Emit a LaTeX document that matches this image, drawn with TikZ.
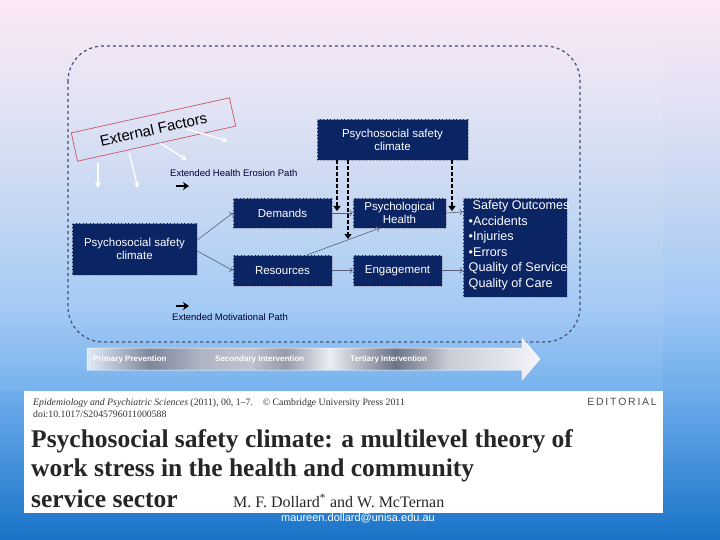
\documentclass[tikz,border=0pt]{standalone}
\usepackage{fontspec}
\setmainfont{Liberation Serif}
\setsansfont{Liberation Sans}
\usetikzlibrary{arrows.meta}

\definecolor{navy}{RGB}{10,36,100}
\definecolor{linegray}{RGB}{85,95,120}
\definecolor{rimblue}{RGB}{65,80,115}
\definecolor{factred}{RGB}{200,85,105}
\definecolor{bgTop}{RGB}{252,232,246}
\definecolor{bgA}{RGB}{226,226,244}
\definecolor{bgB}{RGB}{196,214,242}
\definecolor{bgC}{RGB}{160,200,245}
\definecolor{bgD}{RGB}{105,170,235}
\definecolor{bgE}{RGB}{25,115,200}
\definecolor{bandA}{RGB}{225,235,248}
\definecolor{bandB}{RGB}{125,135,155}
\definecolor{bandC}{RGB}{175,180,195}
\definecolor{bandD}{RGB}{190,195,205}
\definecolor{bandE}{RGB}{150,155,170}
\definecolor{bandF}{RGB}{235,238,242}
\definecolor{bandG}{RGB}{110,115,135}
\definecolor{bandH}{RGB}{200,205,215}
\definecolor{bandI}{RGB}{245,245,250}

\pgfdeclareverticalshading{slidebg}{100bp}{color(0bp)=(bgE); color(25bp)=(bgE);
  color(38bp)=(bgD); color(47bp)=(bgC); color(56.5bp)=(bgB); color(65.7bp)=(bgA);
  color(75bp)=(bgTop); color(100bp)=(bgTop)}
\pgfdeclarehorizontalshading{bandgrad}{100bp}{color(0bp)=(bandA); color(25bp)=(bandA);
  color(32bp)=(bandB); color(37.5bp)=(bandC); color(43bp)=(bandD); color(46.9bp)=(bandE);
  color(51.8bp)=(bandF); color(59bp)=(bandG); color(65bp)=(bandH); color(75bp)=(bandI);
  color(100bp)=(bandI)}

\tikzset{
  navybox/.style={fill=navy, draw=white!60!navy, densely dotted, text=white,
    font=\sffamily\fontsize{11.5}{13}\selectfont, align=center, inner sep=1pt},
  thinarrow/.style={linegray, line width=0.6pt, ->},
  dasharrow/.style={black, dash pattern=on 4pt off 2pt, line width=2pt, -{Triangle[length=5pt,width=7pt]}},
  whitearrow/.style={white, line width=1.3pt, -{Stealth[length=6pt,width=6pt]}},
  pathlabel/.style={font=\sffamily\fontsize{9.5}{11}\selectfont, text=black!80!blue, anchor=west, inner sep=0pt},
  bandlabel/.style={font=\sffamily\bfseries\fontsize{8}{9}\selectfont, text=white, anchor=west, inner sep=0pt},
  papertitle/.style={anchor=west, inner sep=0pt, font=\bfseries\fontsize{25.5}{28}\selectfont, text=black!85}
}

\begin{document}
\begin{tikzpicture}[x=1pt, y=-1pt]
  \useasboundingbox (0,0) rectangle (720,540);
  \shade[shading=slidebg] (0,0) rectangle (720,540);
  \fill[white, opacity=0.07] (0,15) rectangle (663,391);

  % outer dashed frame
  \draw[rimblue, dashed, line width=1.2pt, rounded corners=35pt] (68,46) rectangle (580,342);

  % boxes
  \node[navybox, minimum width=151pt, minimum height=41pt] (topclimate) at (392.5,139.5) {Psychosocial safety\\climate};
  \node[navybox, minimum width=125pt, minimum height=52pt] (leftclimate) at (134.5,249) {Psychosocial safety\\climate};
  \node[navybox, minimum width=99pt, minimum height=30pt] (demands) at (282.5,213) {Demands};
  \node[navybox, minimum width=93pt, minimum height=30pt] (health) at (399.5,213) {Psychological\\Health};
  \node[navybox, minimum width=99pt, minimum height=31pt] (resources) at (282.5,270.5) {Resources};
  \node[navybox, minimum width=89pt, minimum height=31pt] (engage) at (397.5,270.5) {Engagement};
  \node[navybox, minimum width=104pt, minimum height=99pt] (outcomes) at (515,247.5) {};
  \node[text=white, font=\sffamily\fontsize{12.6}{15.5}\selectfont, align=left, anchor=north west, inner sep=0pt]
    (outtext) at (468.5,200.5) {\hspace*{4pt}Safety Outcomes\\\textbullet Accidents\\\textbullet Injuries\\\textbullet Errors\\Quality of Service\\Quality of Care};

  % external factors
  \node[draw=factred, line width=0.7pt, rotate=12.5, minimum width=162pt, minimum height=29pt,
    font=\sffamily\fontsize{15}{17}\selectfont] (extfactors) at (153.5,129.5) {External Factors};
  \coordinate (ef1) at (98,188);
  \coordinate (ef2) at (138,188);
  \coordinate (ef3) at (187,160);
  \coordinate (ef4) at (228,141);
  \draw[whitearrow] (98,163) -- (ef1);
  \draw[whitearrow] (129,153) -- (ef2);
  \draw[whitearrow] (160,143) -- (ef3);
  \draw[whitearrow] (186,129) -- (ef4);

  % paths
  \node[pathlabel] (erosion) at (170,173) {Extended Health Erosion Path};
  \node[pathlabel] (motive) at (172,317) {Extended Motivational Path};
  \draw[black, line width=1.8pt, -{Stealth[length=6pt,width=8pt]}] (176,186) -- (189,186);
  \draw[black, line width=1.8pt, -{Stealth[length=6pt,width=8pt]}] (176,306) -- (189,306);

  % connectors
  \draw[thinarrow] ([yshift=9pt]leftclimate.east) -- (demands.west);
  \draw[thinarrow] ([yshift=-2pt]leftclimate.east) -- (resources.west);
  \draw[thinarrow] (demands.east) -- (health.west);
  \draw[thinarrow] (health.east) -- ([yshift=1pt]outcomes.west |- health.east);
  \draw[thinarrow] (resources.east) -- (engage.west);
  \draw[thinarrow] (engage.east) -- (outcomes.west |- engage.east);
  \draw[thinarrow] ([xshift=25pt]resources.north) -- ([xshift=-20pt]health.south);

  \coordinate (d1) at (337,211);
  \coordinate (d2) at (348,239);
  \coordinate (d3) at (452,211);
  \draw[dasharrow] (topclimate.south -| d1) -- (d1);
  \draw[dasharrow] (topclimate.south -| d2) -- (d2);
  \draw[dasharrow] (topclimate.south -| d3) -- (d3);

  % intervention band
  \shade[shading=bandgrad, draw=white, line width=0.5pt]
    (87,348) -- (522,348) -- (522,338) -- (540,359) -- (522,380) -- (522,370) -- (87,370) -- cycle;
  \node[bandlabel] (primary) at (93,359) {Primary Prevention};
  \node[bandlabel] (secondary) at (215,359) {Secondary Intervention};
  \node[bandlabel] (tertiary) at (350,359) {Tertiary Intervention};

  % article clipping
  \node[font=\sffamily\fontsize{11}{12}\selectfont, text=white, inner sep=0pt] (email) at (358,518) {maureen.dollard@unisa.edu.au};
  \fill[white] (24,391) rectangle (663,513);
  \node[anchor=west, inner sep=0pt, font=\itshape\fontsize{9.8}{10}\selectfont, text=black!80] (journal) at (33,403)
    {Epidemiology and Psychiatric Sciences \upshape(2011), 00, 1--7.\quad \textcopyright\ Cambridge University Press 2011};
  \node[anchor=west, inner sep=0pt, font=\fontsize{9.8}{10}\selectfont, text=black!80] (doi) at (33,414)
    {doi:10.1017/S2045796011000588};
  \node[anchor=east, inner sep=0pt, font=\sffamily\fontsize{10.5}{11}\selectfont, text=black!70] (editorial) at (657,402)
    {E\,D\,I\,T\,O\,R\,I\,A\,L};
  \node[papertitle] (title1) at (31,441) {Psychosocial safety climate: a multilevel theory of};
  \node[papertitle] (title2) at (31,470) {work stress in the health and community};
  \node[papertitle] (title3) at (31,499) {service sector};
  \node[anchor=west, inner sep=0pt, font=\fontsize{16}{17}\selectfont, text=black!85] (authors) at (233,501)
    {M. F. Dollard\textsuperscript{*} and W. McTernan};
\end{tikzpicture}
\end{document}
